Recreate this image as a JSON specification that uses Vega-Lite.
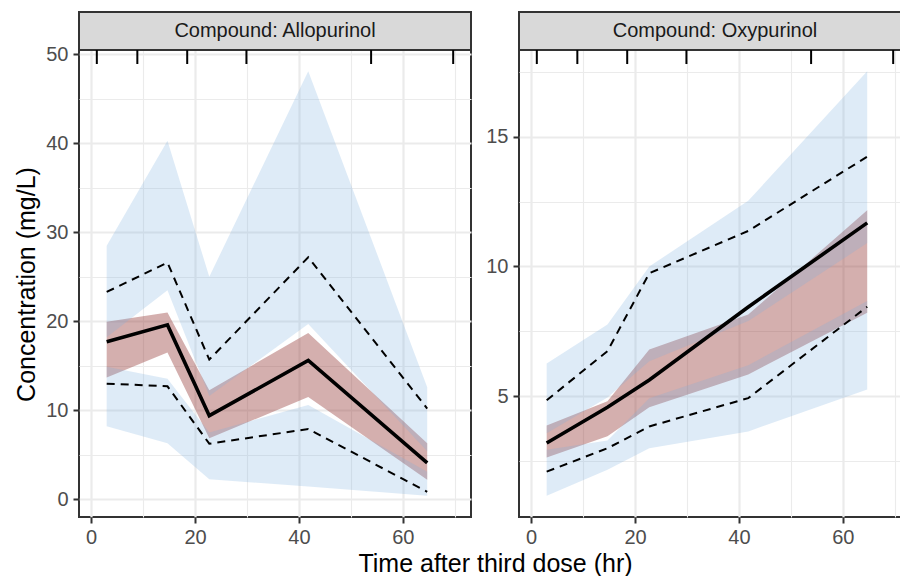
{
  "$schema": "https://vega.github.io/schema/vega-lite/v6.json",
  "background": "white",
  "padding": {"left": 13, "top": 10, "right": 0, "bottom": 0},
  "datasets": {
    "vpc": [
      {"compound": "Allopurinol", "time": 3, "p5": 13.0, "p50": 17.7, "p95": 23.3, "lo_lo": 8.2, "lo_hi": 14.9, "med_lo": 13.7, "med_hi": 19.95, "hi_lo": 18.2, "hi_hi": 28.5},
      {"compound": "Allopurinol", "time": 14.7, "p5": 12.7, "p50": 19.6, "p95": 26.6, "lo_lo": 6.3, "lo_hi": 13.55, "med_lo": 16.5, "med_hi": 21.0, "hi_lo": 23.5, "hi_hi": 40.3},
      {"compound": "Allopurinol", "time": 22.75, "p5": 6.25, "p50": 9.4, "p95": 15.7, "lo_lo": 2.25, "lo_hi": 7.5, "med_lo": 6.85, "med_hi": 12.25, "hi_lo": 11.6, "hi_hi": 25.0},
      {"compound": "Allopurinol", "time": 41.8, "p5": 7.9, "p50": 15.6, "p95": 27.2, "lo_lo": 1.45, "lo_hi": 10.6, "med_lo": 11.5, "med_hi": 18.7, "hi_lo": 19.7, "hi_hi": 48.1},
      {"compound": "Allopurinol", "time": 64.7, "p5": 0.85, "p50": 4.1, "p95": 10.2, "lo_lo": 0.4, "lo_hi": 3.1, "med_lo": 2.2, "med_hi": 6.3, "hi_lo": 5.4, "hi_hi": 12.6},
      {"compound": "Oxypurinol", "time": 3, "p5": 2.1, "p50": 3.2, "p95": 4.85, "lo_lo": 1.17, "lo_hi": 2.94, "med_lo": 2.64, "med_hi": 3.88, "hi_lo": 3.58, "hi_hi": 6.26},
      {"compound": "Oxypurinol", "time": 14.7, "p5": 3.0, "p50": 4.58, "p95": 6.74, "lo_lo": 2.17, "lo_hi": 3.3, "med_lo": 3.46, "med_hi": 4.81, "hi_lo": 4.95, "hi_hi": 7.77},
      {"compound": "Oxypurinol", "time": 22.75, "p5": 3.84, "p50": 5.63, "p95": 9.74, "lo_lo": 3.0, "lo_hi": 4.93, "med_lo": 4.58, "med_hi": 6.8, "hi_lo": 6.35, "hi_hi": 10.0},
      {"compound": "Oxypurinol", "time": 41.8, "p5": 4.93, "p50": 8.44, "p95": 11.37, "lo_lo": 3.65, "lo_hi": 6.2, "med_lo": 5.84, "med_hi": 8.15, "hi_lo": 7.9, "hi_hi": 12.53},
      {"compound": "Oxypurinol", "time": 64.7, "p5": 8.45, "p50": 11.68, "p95": 14.23, "lo_lo": 5.26, "lo_hi": 8.67, "med_lo": 8.22, "med_hi": 12.17, "hi_lo": 10.9, "hi_hi": 17.52}
    ],
    "bins": [
      {"compound": "Allopurinol", "time": 1.1}, {"compound": "Allopurinol", "time": 8.9}, {"compound": "Allopurinol", "time": 18.5},
      {"compound": "Allopurinol", "time": 29.9}, {"compound": "Allopurinol", "time": 53.9}, {"compound": "Allopurinol", "time": 69.7},
      {"compound": "Oxypurinol", "time": 1.1}, {"compound": "Oxypurinol", "time": 8.9}, {"compound": "Oxypurinol", "time": 18.5},
      {"compound": "Oxypurinol", "time": 29.9}, {"compound": "Oxypurinol", "time": 53.9}, {"compound": "Oxypurinol", "time": 69.7}
    ],
    "strips": [
      {"compound": "Allopurinol", "label": "Compound: Allopurinol"},
      {"compound": "Oxypurinol", "label": "Compound: Oxypurinol"}
    ]
  },
  "bounds": "flush",
  "spacing": 48,
  "hconcat": [
    {
      "width": 392, "height": 505,
      "view": {"stroke": "#333333", "strokeWidth": 2, "fill": "white"},
      "data": {"name": "vpc"},
      "transform": [{"filter": "datum.compound === 'Allopurinol'"}],
      "encoding": {
        "x": {"field": "time", "type": "quantitative",
          "scale": {"domain": [-2.33, 73.13], "nice": false, "zero": false},
          "axis": {
            "values": [0, 10, 20, 30, 40, 50, 60, 70],
            "labelExpr": "datum.value % 20 === 0 ? datum.label : ''",
            "grid": true, "gridColor": "#EBEBEB",
            "gridWidth": {"condition": {"test": "datum.value % 20 === 0", "value": 2.2}, "value": 1.1},
            "tickOpacity": {"condition": {"test": "datum.value % 20 === 0", "value": 1}, "value": 0},
            "domain": false, "tickColor": "#333333", "tickSize": 6, "tickWidth": 2,
            "labelFontSize": 20, "labelColor": "#4D4D4D", "labelPadding": 4, "labelFont": "Liberation Sans",
            "labelFlush": false, "labelOverlap": false,
            "title": "Time after third dose (hr)", "titleFontSize": 25, "titleFont": "Liberation Sans",
            "titleColor": "black", "titleFontWeight": "normal",
            "titleX": 416, "titleY": 54, "titleBaseline": "alphabetic", "titleAlign": "center"
          }
        }
      },
      "layer": [
        {
          "mark": {"type": "area", "orient": "vertical", "color": "#943735", "opacity": 0.4},
          "encoding": {
            "y": {"field": "med_lo", "type": "quantitative",
              "scale": {"domain": [-1.985, 54.755], "nice": false, "zero": false},
              "axis": {
                "values": [0, 5, 10, 15, 20, 25, 30, 35, 40, 45, 50],
                "labelExpr": "datum.value % 10 === 0 ? datum.label : ''",
                "grid": true, "gridColor": "#EBEBEB",
                "gridWidth": {"condition": {"test": "datum.value % 10 === 0", "value": 2.2}, "value": 1.1},
                "tickOpacity": {"condition": {"test": "datum.value % 10 === 0", "value": 1}, "value": 0},
                "domain": false, "tickColor": "#333333", "tickSize": 6, "tickWidth": 2,
                "labelFontSize": 20, "labelColor": "#4D4D4D", "labelPadding": 5, "labelFont": "Liberation Sans",
                "labelFlush": false, "labelOverlap": false,
                "title": "Concentration (mg/L)", "titleFontSize": 25, "titleFont": "Liberation Sans",
                "titleColor": "black", "titleFontWeight": "normal", "titlePadding": 6, "titleY": 272
              }
            },
            "y2": {"field": "med_hi"}
          }
        },
        {
          "mark": {"type": "area", "orient": "vertical", "color": "#7BAFDF", "opacity": 0.25},
          "encoding": {
            "y": {"field": "lo_lo", "type": "quantitative", "scale": {"domain": [-1.985, 54.755], "nice": false, "zero": false}},
            "y2": {"field": "lo_hi"}
          }
        },
        {
          "mark": {"type": "area", "orient": "vertical", "color": "#7BAFDF", "opacity": 0.25},
          "encoding": {
            "y": {"field": "hi_lo", "type": "quantitative", "scale": {"domain": [-1.985, 54.755], "nice": false, "zero": false}},
            "y2": {"field": "hi_hi"}
          }
        },
        {
          "mark": {"type": "line", "color": "black", "strokeWidth": 2, "strokeDash": [8, 6]},
          "encoding": {"y": {"field": "p5", "type": "quantitative", "scale": {"domain": [-1.985, 54.755], "nice": false, "zero": false}}}
        },
        {
          "mark": {"type": "line", "color": "black", "strokeWidth": 2, "strokeDash": [8, 6]},
          "encoding": {"y": {"field": "p95", "type": "quantitative", "scale": {"domain": [-1.985, 54.755], "nice": false, "zero": false}}}
        },
        {
          "mark": {"type": "line", "color": "black", "strokeWidth": 3.6},
          "encoding": {"y": {"field": "p50", "type": "quantitative", "scale": {"domain": [-1.985, 54.755], "nice": false, "zero": false}}}
        },
        {
          "data": {"name": "strips"},
          "transform": [{"filter": "datum.compound === 'Allopurinol'"}],
          "mark": {"type": "rect", "fill": "#D9D9D9", "stroke": "#333333", "strokeWidth": 2},
          "encoding": {
            "x": null,
            "y": {"datum": 50.485, "type": "quantitative", "scale": {"domain": [-1.985, 54.755], "nice": false, "zero": false}},
            "y2": {"datum": 54.755}
          }
        },
        {
          "data": {"name": "strips"},
          "transform": [{"filter": "datum.compound === 'Allopurinol'"}],
          "mark": {"type": "text", "fontSize": 20, "color": "#1A1A1A", "font": "Liberation Sans", "baseline": "middle", "align": "center"},
          "encoding": {
            "x": null,
            "y": {"datum": 52.62, "type": "quantitative", "scale": {"domain": [-1.985, 54.755], "nice": false, "zero": false}},
            "text": {"field": "label", "type": "nominal"}
          }
        },
        {
          "data": {"name": "bins"},
          "transform": [{"filter": "datum.compound === 'Allopurinol'"}],
          "mark": {"type": "rule", "color": "black", "strokeWidth": 2},
          "encoding": {
            "y": {"datum": 50.485, "type": "quantitative", "scale": {"domain": [-1.985, 54.755], "nice": false, "zero": false}},
            "y2": {"datum": 48.91}
          }
        }
      ]
    },
    {
      "width": 392, "height": 505,
      "view": {"stroke": "#333333", "strokeWidth": 2, "fill": "white"},
      "data": {"name": "vpc"},
      "transform": [{"filter": "datum.compound === 'Oxypurinol'"}],
      "encoding": {
        "x": {"field": "time", "type": "quantitative",
          "scale": {"domain": [-2.33, 73.13], "nice": false, "zero": false},
          "axis": {
            "values": [0, 10, 20, 30, 40, 50, 60, 70],
            "labelExpr": "datum.value % 20 === 0 ? datum.label : ''",
            "grid": true, "gridColor": "#EBEBEB",
            "gridWidth": {"condition": {"test": "datum.value % 20 === 0", "value": 2.2}, "value": 1.1},
            "tickOpacity": {"condition": {"test": "datum.value % 20 === 0", "value": 1}, "value": 0},
            "domain": false, "tickColor": "#333333", "tickSize": 6, "tickWidth": 2,
            "labelFontSize": 20, "labelColor": "#4D4D4D", "labelPadding": 4, "labelFont": "Liberation Sans",
            "labelFlush": false, "labelOverlap": false,
            "title": null
          }
        }
      },
      "layer": [
        {
          "mark": {"type": "area", "orient": "vertical", "color": "#943735", "opacity": 0.4},
          "encoding": {
            "y": {"field": "med_lo", "type": "quantitative",
              "scale": {"domain": [0.3525, 19.801], "nice": false, "zero": false},
              "axis": {
                "values": [2.5, 5, 7.5, 10, 12.5, 15, 17.5],
                "labelExpr": "datum.value % 5 === 0 ? datum.label : ''",
                "grid": true, "gridColor": "#EBEBEB",
                "gridWidth": {"condition": {"test": "datum.value % 5 === 0", "value": 2.2}, "value": 1.1},
                "tickOpacity": {"condition": {"test": "datum.value % 5 === 0", "value": 1}, "value": 0},
                "domain": false, "tickColor": "#333333", "tickSize": 6, "tickWidth": 2,
                "labelFontSize": 20, "labelColor": "#4D4D4D", "labelPadding": 5, "labelFont": "Liberation Sans",
                "labelFlush": false, "labelOverlap": false,
                "title": null
              }
            },
            "y2": {"field": "med_hi"}
          }
        },
        {
          "mark": {"type": "area", "orient": "vertical", "color": "#7BAFDF", "opacity": 0.25},
          "encoding": {
            "y": {"field": "lo_lo", "type": "quantitative", "scale": {"domain": [0.3525, 19.801], "nice": false, "zero": false}},
            "y2": {"field": "lo_hi"}
          }
        },
        {
          "mark": {"type": "area", "orient": "vertical", "color": "#7BAFDF", "opacity": 0.25},
          "encoding": {
            "y": {"field": "hi_lo", "type": "quantitative", "scale": {"domain": [0.3525, 19.801], "nice": false, "zero": false}},
            "y2": {"field": "hi_hi"}
          }
        },
        {
          "mark": {"type": "line", "color": "black", "strokeWidth": 2, "strokeDash": [8, 6]},
          "encoding": {"y": {"field": "p5", "type": "quantitative", "scale": {"domain": [0.3525, 19.801], "nice": false, "zero": false}}}
        },
        {
          "mark": {"type": "line", "color": "black", "strokeWidth": 2, "strokeDash": [8, 6]},
          "encoding": {"y": {"field": "p95", "type": "quantitative", "scale": {"domain": [0.3525, 19.801], "nice": false, "zero": false}}}
        },
        {
          "mark": {"type": "line", "color": "black", "strokeWidth": 3.6},
          "encoding": {"y": {"field": "p50", "type": "quantitative", "scale": {"domain": [0.3525, 19.801], "nice": false, "zero": false}}}
        },
        {
          "data": {"name": "strips"},
          "transform": [{"filter": "datum.compound === 'Oxypurinol'"}],
          "mark": {"type": "rect", "fill": "#D9D9D9", "stroke": "#333333", "strokeWidth": 2},
          "encoding": {
            "x": null,
            "y": {"datum": 18.3375, "type": "quantitative", "scale": {"domain": [0.3525, 19.801], "nice": false, "zero": false}},
            "y2": {"datum": 19.801}
          }
        },
        {
          "data": {"name": "strips"},
          "transform": [{"filter": "datum.compound === 'Oxypurinol'"}],
          "mark": {"type": "text", "fontSize": 20, "color": "#1A1A1A", "font": "Liberation Sans", "baseline": "middle", "align": "center"},
          "encoding": {
            "x": null,
            "y": {"datum": 19.069, "type": "quantitative", "scale": {"domain": [0.3525, 19.801], "nice": false, "zero": false}},
            "text": {"field": "label", "type": "nominal"}
          }
        },
        {
          "data": {"name": "bins"},
          "transform": [{"filter": "datum.compound === 'Oxypurinol'"}],
          "mark": {"type": "rule", "color": "black", "strokeWidth": 2},
          "encoding": {
            "y": {"datum": 18.3375, "type": "quantitative", "scale": {"domain": [0.3525, 19.801], "nice": false, "zero": false}},
            "y2": {"datum": 17.797}
          }
        }
      ]
    }
  ],
  "config": {
    "font": "Liberation Sans",
    "view": {"stroke": null}
  }
}
